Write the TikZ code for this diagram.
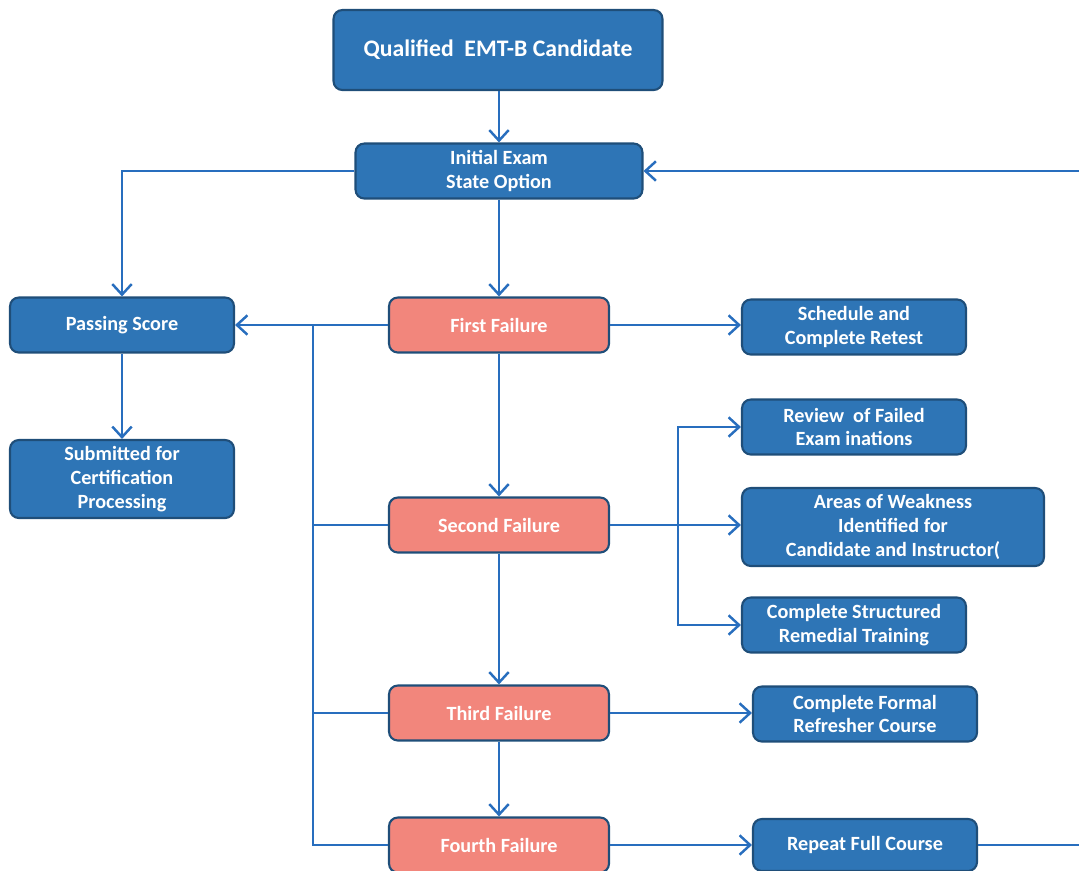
\documentclass[tikz,border=0pt]{standalone}
\usepackage{fontspec}
\setmainfont{Carlito}
\usetikzlibrary{arrows.meta}
\usetikzlibrary{calc}
\definecolor{boxblue}{RGB}{46,117,182}
\definecolor{boxedge}{RGB}{31,78,121}
\definecolor{boxpink}{RGB}{242,134,124}
\definecolor{lineblue}{RGB}{40,110,190}
\tikzset{
    stage/.style={draw=boxedge, line width=1.2pt, rounded corners=5pt, fill=boxblue,
        text=white, font=\bfseries\fontsize{11.5}{13.6}\selectfont, align=center,
        minimum width=4.48cm, minimum height=1.1cm, inner sep=2pt},
    fail/.style={stage, fill=boxpink},
    link/.style={draw=lineblue, line width=1.5pt},
    arr/.style={link, -{Straight Barb[length=6pt, width=11pt, line width=1.4pt]}}
}
\begin{document}
\begin{tikzpicture}[x=0.02cm, y=-0.02cm]
        \useasboundingbox (0,0) rectangle (1079,870);
        % top of the chart
        \node[stage, minimum width=6.58cm, minimum height=1.6cm, font=\bfseries\fontsize{13.5}{16}\selectfont] (qualified) at (498,50) {Qualified\ \ EMT-B Candidate};
        \node[stage, minimum width=5.74cm] (initial) at (499,171) {Initial Exam\\State Option};
        % passing branch
        \node[stage] (passing) at (122,325) {Passing Score};
        \node[stage, minimum height=1.56cm] (submitted) at (122,479) {Submitted for\\Certification\\Processing};
        % failures
        \node[fail, minimum width=4.4cm] (first) at (499,325) {First Failure};
        \node[fail, minimum width=4.4cm] (second) at (499,525) {Second Failure};
        \node[fail, minimum width=4.4cm] (third) at (499,713) {Third Failure};
        \node[fail, minimum width=4.4cm] (fourth) at (499,845) {Fourth Failure};
        % actions
        \node[stage] (retest) at (854,327) {Schedule and\\Complete Retest};
        \node[stage] (review) at (854,427) {Review\ \ of Failed\\Exam inations};
        \node[stage, minimum width=6.04cm, minimum height=1.56cm] (weakness) at (893,527) {Areas of Weakness\\Identified for\\Candidate and Instructor(};
        \node[stage] (remedial) at (854,625) {Complete Structured\\Remedial Training};
        \node[stage] (refresher) at (865,714) {Complete Formal\\Refresher Course};
        \node[stage, minimum height=1.04cm] (repeat) at (865,845) {Repeat Full Course};
        % helper points
        \coordinate (lbus) at (313,325);
        \coordinate (rbus) at (678,525);
        \coordinate (back) at (1120,500);
        % connectors
        \draw[arr] (qualified.south -| initial.north) -- (initial.north);
        \draw[arr] (initial.west) -| (passing.north);
        \draw[arr] (initial) -- (first);
        \draw[arr] (passing) -- (submitted);
        \draw[arr] (first) -- (passing);
        \draw[link] (fourth.west) -| (lbus);
        \draw[link] (second.west) -- (second.west -| lbus);
        \draw[link] (third.west) -- (third.west -| lbus);
        \draw[arr] (first.east) -- (first.east -| retest.west);
        \draw[arr] (first) -- (second);
        \draw[arr] (second) -- (third);
        \draw[arr] (third) -- (fourth);
        \draw[arr] (second.east) -- (second.east -| weakness.west);
        \draw[arr] (rbus) |- (review.west);
        \draw[arr] (rbus) |- (remedial.west);
        \draw[arr] (third.east) -- (third.east -| refresher.west);
        \draw[arr] (fourth) -- (repeat);
        \draw[arr] (repeat.east) -| (back) |- (initial.east);
\end{tikzpicture}
\end{document}
